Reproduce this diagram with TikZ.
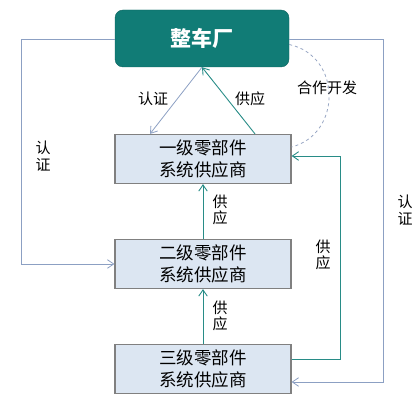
\documentclass[tikz,border=0pt]{standalone}
\usepackage{fontspec}
\setmainfont{Noto Sans CJK SC}
\usepackage{xcolor}
\usetikzlibrary{positioning, arrows.meta}
\definecolor{oemfill}{RGB}{17,124,118}
\definecolor{tierfill}{RGB}{220,230,242}
\definecolor{tierdraw}{RGB}{128,128,128}
\definecolor{authcol}{RGB}{140,160,195}
\definecolor{supcol}{RGB}{40,140,135}
\definecolor{coopcol}{RGB}{150,165,195}
\begin{document}
\begin{tikzpicture}[
      x=1pt, y=1pt,
      tier/.style={draw=tierdraw, line width=1.2pt, fill=tierfill, align=center, minimum width=176pt, minimum height=49pt, inner sep=0pt, font=\fontsize{17.5}{21.5}\selectfont},
      oembox/.style={draw=oemfill!80!black, fill=oemfill, rounded corners=8pt, minimum width=174pt, minimum height=57pt, text=white, font=\fontsize{21}{24}\selectfont\bfseries},
      lbl/.style={align=center, inner sep=0pt, font=\fontsize{15}{16.5}\selectfont},
      auth/.style={draw=authcol, line width=0.8pt, -{Straight Barb[length=2.2mm, width=3mm]}},
      sup/.style={draw=supcol, line width=0.9pt, -{Straight Barb[length=2.2mm, width=3mm]}},
      coop/.style={draw=coopcol, line width=0.8pt, dashed}
    ]
    \useasboundingbox (0,0) rectangle (419,406);
    % Nodes
    \node[oembox] (oem) at (202,367.5) {整车厂};
    \node[tier] (t1) at (203,247) {一级零部件\\系统供应商};
    \node[tier] (t2) at (203,142) {二级零部件\\系统供应商};
    \node[tier] (t3) at (203,37) {三级零部件\\系统供应商};

    \coordinate (lc) at (21,367);
    \coordinate (rc) at (383,367);
    \coordinate (sc) at (340,47);

    % Labels
    \node[lbl] (la) at (153,307) {认证};
    \node[lbl] (lb) at (250,307) {供应};
    \node[lbl] (lc2) at (327,318) {合作开发};
    \node[lbl] (ld) at (43,250) {认\\证};
    \node[lbl] (le) at (405,196) {认\\证};
    \node[lbl] (lf) at (220,196) {供\\应};
    \node[lbl] (lg) at (323,151) {供\\应};
    \node[lbl] (lh) at (220,90) {供\\应};

    % Edges
    \draw[auth] (oem.west |- lc) -- (lc) |- (t2.west);
    \draw[auth] (oem.east |- rc) -- (rc) |- ([yshift=-13pt]t3.east);
    \draw[auth] (oem.south) -- ([xshift=-53pt]t1.north);
    \draw[sup] ([xshift=52pt]t1.north) -- (oem.south);
    \draw[sup] (t2.north) -- (t1.south);
    \draw[sup] (t3.north) -- (t2.south);
    \draw[sup] ([yshift=10pt]t3.east) -- (sc) |- ([yshift=3pt]t1.east);
    \draw[coop] ([yshift=-6pt]oem.east) .. controls (342,350) and (342,272) .. ([yshift=12pt]t1.east);
\end{tikzpicture}
\end{document}
